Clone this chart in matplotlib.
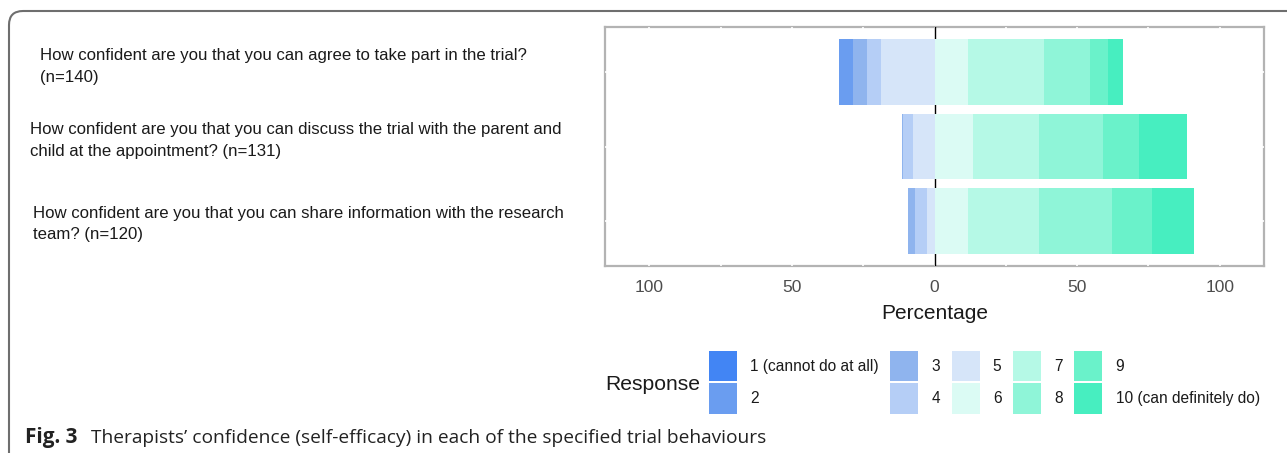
import matplotlib
matplotlib.use("Agg")
import matplotlib.pyplot as plt
import numpy as np
from matplotlib.patches import Patch, PathPatch
from matplotlib.path import Path
import matplotlib.transforms as mtransforms

# ---------------- data ----------------
questions = [
    "How confident are you that you can agree to take part in the trial?\n(n=140)",
    "How confident are you that you can discuss the trial with the parent and\nchild at the appointment? (n=131)",
    "How confident are you that you can share information with the research\nteam? (n=120)",
]
response_levels = ["1 (cannot do at all)", "2", "3", "4", "5",
                   "6", "7", "8", "9", "10 (can definitely do)"]
# percentage of respondents choosing each response level (1..10)
q_agree   = [0.0, 4.8, 5.2, 4.9, 18.6, 11.7, 26.8, 16.1, 6.1, 5.4]
q_discuss = [0.0, 0.0, 0.4, 3.4, 7.5, 13.5, 23.0, 22.4, 12.8, 16.9]
q_share   = [0.0, 0.0, 2.4, 4.2, 2.6, 11.7, 24.8, 25.7, 14.1, 14.7]
x_ticks = [-100, -50, 0, 50, 100]
x_tick_labels = ["100", "50", "0", "50", "100"]

colors = ["#4285F4", "#6A9DF0", "#8FB4EE", "#B5CEF6", "#D6E5F9",
          "#DBFBF4", "#B5F9E6", "#8FF5D8", "#6AF2CA", "#47EEC0"]

values = np.array([q_agree, q_discuss, q_share])

# ---------------- figure ----------------
W, H = 1287, 453
fig = plt.figure(figsize=(W / 100, H / 100), dpi=100)
plt.rcParams['font.family'] = ['Liberation Sans', 'DejaVu Sans']

ax = fig.add_axes([605 / W, 1 - 266 / H, (1264 - 605) / W, (266 - 27) / H])
ypos = np.arange(len(questions))
bar_h = 0.88
n_neg = 5

# white grid lines (visible only as gaps in the frame)
for xv in np.arange(-100, 101, 25):
    ax.axvline(xv, color="white", lw=1.2, zorder=3)
for yv in ypos:
    ax.axhline(yv, color="white", lw=1.2, zorder=3)
ax.axvline(0, color="black", lw=1.0, zorder=3.5)

for i in range(len(questions)):
    row = values[i]
    cum = 0.0
    for k in range(n_neg - 1, -1, -1):
        v = row[k]
        if v > 0:
            ax.barh(ypos[i], -v, left=-cum, height=bar_h, color=colors[k],
                    edgecolor="none", zorder=4)
        cum += v
    cum = 0.0
    for k in range(n_neg, len(response_levels)):
        v = row[k]
        if v > 0:
            ax.barh(ypos[i], v, left=cum, height=bar_h, color=colors[k],
                    edgecolor="none", zorder=4)
        cum += v

ax.set_xlim(-115.5, 115.5)
ax.set_ylim(len(questions) - 0.4, -0.6)
ax.set_xticks(x_ticks)
ax.set_xticklabels(x_tick_labels)
ax.set_yticks([])
ax.tick_params(axis="x", length=0, pad=9.8, labelsize=12.5, labelcolor="#4d4d4d")
for s in ax.spines.values():
    s.set_color("#b3b3b3")
    s.set_linewidth(1.6)
ax.set_xlabel("Percentage", fontsize=15, color="#1a1a1a", labelpad=7)

# question labels (left-aligned, at figure-pixel x)
trans = mtransforms.blended_transform_factory(fig.transFigure, ax.transData)
label_x_px = [40, 30, 33]
label_dy = [-0.07, -0.08, 0.04]
for i, q in enumerate(questions):
    ax.text(label_x_px[i] / W, ypos[i] + label_dy[i], q, transform=trans,
            ha="left", va="center", fontsize=12.1, color="#1a1a1a",
            linespacing=1.55, clip_on=False)

# legend
handles = [Patch(facecolor=c, edgecolor="none") for c in colors]
leg = fig.legend(handles, response_levels, ncol=5, frameon=False,
                 loc="upper left", bbox_to_anchor=(709 / W, 1 - 351 / H),
                 bbox_transform=fig.transFigure, borderaxespad=0, borderpad=0,
                 fontsize=11.2, handlelength=1.79, handleheight=2.6,
                 labelspacing=0.15, handletextpad=0.85, columnspacing=0.75)
for t in leg.get_texts():
    t.set_color("#1a1a1a")
fig.text(605 / W, 1 - 384 / H, "Response", ha="left", va="center",
         fontsize=15.2, color="#1a1a1a")

# outer rounded frame (top and left)
r = 14
verts = [(9, H), (9, 11 + r), (9, 11), (9 + r, 11), (W, 11)]
codes = [Path.MOVETO, Path.LINETO, Path.CURVE3, Path.CURVE3, Path.LINETO]
verts_fig = [(x / W, 1 - y / H) for x, y in verts]
fig.patches.append(PathPatch(Path(verts_fig, codes), transform=fig.transFigure,
                             facecolor="none", edgecolor="#6e6e6e", lw=1.5))

# caption (font size fitted to the caption's width)
cap_family = ["Open Sans", "DejaVu Sans"]
cap_y = 1 - 438 / H
t1 = fig.text(25 / W, cap_y, "Fig. 3", ha="left", va="center", fontsize=12,
              fontweight="bold", family=cap_family, color="#222222")
t2 = fig.text(91 / W, cap_y,
              "Therapists\u2019 confidence (self-efficacy) in each of the specified trial behaviours",
              ha="left", va="center", fontsize=12, family=cap_family, color="#222222")
renderer = fig.canvas.get_renderer()
for t, target in ((t1, 78 - 25), (t2, 763 - 91)):
    w = t.get_window_extent(renderer).width
    t.set_fontsize(12 * target / w)

fig.savefig("out.png", dpi=100)
